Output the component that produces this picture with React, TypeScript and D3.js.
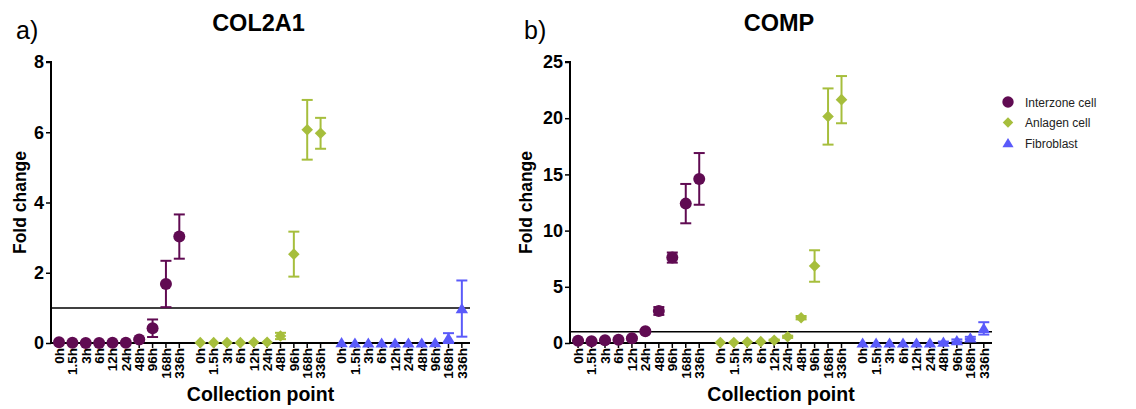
import React, { useEffect, useRef } from 'react';
import * as d3 from 'd3';

// collection points (same for every cell type)
const hours = ['0h', '1.5h', '3h', '6h', '12h', '24h', '48h', '96h', '168h', '336h'];
const cellTypes = ['Interzone cell', 'Anlagen cell', 'Fibroblast'];
const cellColors = ['#600b52', '#a6be3c', '#5a5afa'];
const cellShapes = ['circle', 'diamond', 'triangle'];

// COL2A1 fold change (mean, SEM)
const col2a1Interzone = [0.02, 0.01, 0.0, 0.0, 0.01, 0.01, 0.1, 0.42, 1.68, 3.03];
const col2a1InterzoneSem = [0, 0, 0, 0, 0, 0, 0.03, 0.25, 0.66, 0.63];
const col2a1Anlagen = [0.01, 0.01, 0.01, 0.01, 0.02, 0.02, 0.2, 2.53, 6.07, 5.97];
const col2a1AnlagenSem = [0, 0, 0, 0, 0, 0, 0.09, 0.64, 0.85, 0.44];
const col2a1Fibroblast = [0.01, 0.0, 0.0, 0.0, 0.0, 0.0, 0.0, 0.01, 0.14, 0.98];
const col2a1FibroblastSem = [0, 0, 0, 0, 0, 0, 0, 0, 0.14, 0.8];

// COMP fold change (mean, SEM)
const compInterzone = [0.2, 0.15, 0.25, 0.28, 0.42, 1.05, 2.85, 7.6, 12.4, 14.6];
const compInterzoneSem = [0.05, 0.05, 0.05, 0.05, 0.1, 0.1, 0.35, 0.45, 1.75, 2.3];
const compAnlagen = [0.05, 0.05, 0.08, 0.12, 0.25, 0.55, 2.25, 6.85, 20.15, 21.65];
const compAnlagenSem = [0, 0, 0, 0, 0.05, 0.1, 0.15, 1.4, 2.5, 2.1];
const compFibroblast = [0.0, 0.0, 0.0, 0.0, 0.0, 0.02, 0.08, 0.22, 0.45, 1.3];
const compFibroblastSem = [0, 0, 0, 0, 0, 0, 0.05, 0.1, 0.1, 0.55];

const col2a1Ticks = [0, 2, 4, 6, 8];
const compTicks = [0, 5, 10, 15, 20, 25];

const panels = [
  {
    letter: 'a)', title: 'COL2A1', x0: 51, x1: 470, letterX: 16, labelX: 26,
    yMax: 8, ticks: col2a1Ticks,
    means: [col2a1Interzone, col2a1Anlagen, col2a1Fibroblast],
    sems: [col2a1InterzoneSem, col2a1AnlagenSem, col2a1FibroblastSem],
  },
  {
    letter: 'b)', title: 'COMP', x0: 570, x1: 992, letterX: 524, labelX: 532,
    yMax: 25, ticks: compTicks,
    means: [compInterzone, compAnlagen, compFibroblast],
    sems: [compInterzoneSem, compAnlagenSem, compFibroblastSem],
  },
];

const FONT = '"Liberation Sans", Arial, sans-serif';
const groupStride = 10.57; // group width + gap, in slots

function markerPath(shape: string) {
  if (shape === 'circle') return d3.symbol(d3.symbolCircle, Math.PI * 6 * 6)()!;
  if (shape === 'diamond') return 'M0,-5.8L5.8,0L0,5.8L-5.8,0Z';
  return 'M0,-5.6L6.2,4.6L-6.2,4.6Z';
}

export default function App() {
  const svgRef = useRef<SVGSVGElement>(null);

  useEffect(() => {
    const svg = d3.select(svgRef.current);
    svg.selectAll('*').remove();

    const top = 62;
    const bottom = 343;

    panels.forEach((p) => {
      const x = d3.scaleLinear().domain([-0.6, 30.75]).range([p.x0, p.x1]);
      const y = d3.scaleLinear().domain([0, p.yMax]).range([bottom, top]);
      const g = svg.append('g');
      const mid = (p.x0 + p.x1) / 2;

      // panel letter + title
      g.append('text').attr('x', p.letterX).attr('y', 39)
        .attr('font-family', FONT).attr('font-size', 25).attr('fill', '#000')
        .text(p.letter);
      g.append('text').attr('x', mid - 2).attr('y', 31)
        .attr('text-anchor', 'middle').attr('font-family', FONT)
        .attr('font-size', 23.5).attr('font-weight', 'bold').text(p.title);

      // reference line at fold change = 1
      g.append('line').attr('x1', p.x0).attr('x2', p.x1)
        .attr('y1', y(1)).attr('y2', y(1))
        .attr('stroke', '#000').attr('stroke-width', 1.5);

      // y axis
      const yAxis = d3.axisLeft(y).tickValues(p.ticks).tickSize(5).tickPadding(2)
        .tickFormat(d3.format('d'));
      const ya = g.append('g').attr('transform', `translate(${p.x0},0)`).call(yAxis);
      ya.select('.domain').attr('stroke-width', 2).attr('d', `M-5,${top}H0V${bottom}`);
      ya.selectAll('.tick line').attr('stroke-width', 1.5);
      ya.selectAll('.tick text').attr('font-family', FONT).attr('font-size', 18)
        .attr('font-weight', 'bold').attr('fill', '#000');

      // x axis with category ticks
      const slots: { pos: number; label: string }[] = [];
      cellTypes.forEach((_, gi) => hours.forEach((h, i) => slots.push({ pos: gi * groupStride + i, label: h })));

      g.append('line').attr('x1', p.x0).attr('x2', p.x1).attr('y1', bottom).attr('y2', bottom)
        .attr('stroke', '#000').attr('stroke-width', 2);
      g.selectAll('.xt').data(slots).join('line')
        .attr('x1', (d) => x(d.pos)).attr('x2', (d) => x(d.pos))
        .attr('y1', bottom).attr('y2', bottom + 5)
        .attr('stroke', '#000').attr('stroke-width', 1.5);
      g.selectAll('.xl').data(slots).join('text')
        .attr('transform', (d) => `translate(${x(d.pos) + 4.8},${bottom + 5}) rotate(-90)`)
        .attr('text-anchor', 'end').attr('font-family', FONT).attr('font-size', 13.5)
        .attr('font-weight', 'bold').text((d) => d.label);

      // axis titles
      g.append('text').attr('transform', `translate(${p.labelX},${(top + bottom) / 2}) rotate(-90)`)
        .attr('text-anchor', 'middle').attr('font-family', FONT).attr('font-size', 17.5)
        .attr('font-weight', 'bold').text('Fold change');
      g.append('text').attr('x', mid).attr('y', 401)
        .attr('text-anchor', 'middle').attr('font-family', FONT).attr('font-size', 19.5)
        .attr('font-weight', 'bold').text('Collection point');

      // series: error bars then markers
      p.means.forEach((vals, si) => {
        const color = cellColors[si];
        const pts = vals.map((v, i) => ({ pos: si * groupStride + i, v, e: p.sems[si][i] }));
        const withErr = pts.filter((d) => d.e > 0);
        const eg = g.append('g').attr('stroke', color).attr('stroke-width', 2).attr('fill', 'none');
        eg.selectAll('.ev').data(withErr).join('line')
          .attr('x1', (d) => x(d.pos)).attr('x2', (d) => x(d.pos))
          .attr('y1', (d) => y(d.v - d.e)).attr('y2', (d) => y(d.v + d.e));
        eg.selectAll('.et').data(withErr).join('line')
          .attr('x1', (d) => x(d.pos) - 5.5).attr('x2', (d) => x(d.pos) + 5.5)
          .attr('y1', (d) => y(d.v + d.e)).attr('y2', (d) => y(d.v + d.e));
        eg.selectAll('.eb').data(withErr).join('line')
          .attr('x1', (d) => x(d.pos) - 5.5).attr('x2', (d) => x(d.pos) + 5.5)
          .attr('y1', (d) => y(Math.max(0, d.v - d.e))).attr('y2', (d) => y(Math.max(0, d.v - d.e)));
        g.selectAll(`.m${si}`).data(pts).join('path')
          .attr('d', markerPath(cellShapes[si]))
          .attr('transform', (d) => `translate(${x(d.pos)},${y(d.v)})`)
          .attr('fill', color);
      });
    });

    // legend
    const lg = svg.append('g').attr('transform', 'translate(1008,102)');
    cellTypes.forEach((name, i) => {
      const row = lg.append('g').attr('transform', `translate(0,${i * 20.5})`);
      row.append('path').attr('d', markerPath(cellShapes[i])).attr('fill', cellColors[i])
        .attr('transform', i === 0 ? 'scale(0.95)' : 'scale(0.9)');
      row.append('text').attr('x', 17).attr('y', 4.5).attr('font-family', FONT)
        .attr('font-size', 12).attr('fill', '#222').text(name);
    });
  }, []);

  return (
    <svg ref={svgRef} width={1136} height={409}
      style={{ position: 'absolute', left: 0, top: 0, background: '#fff' }} />
  );
}
